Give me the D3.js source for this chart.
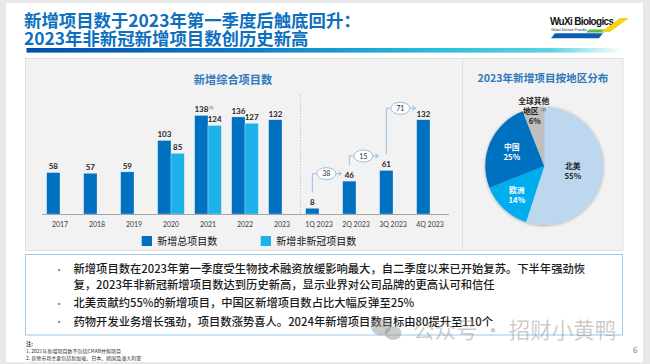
<!DOCTYPE html>
<html><head><meta charset="utf-8">
<script src="https://cdn.jsdelivr.net/npm/d3@7"></script>
<style>
html,body{margin:0;padding:0;background:#e8e8e8;}
svg{display:block;font-family:"Noto Sans CJK SC","Noto Sans",sans-serif;}
</style></head>
<body>
<svg id="c" width="650" height="364"></svg>
<script>
// ---------- data ----------
const titleLines = ["新增项目数于2023年第一季度后触底回升：", "2023年非新冠新增项目数创历史新高"];
const categories = ["2017","2018","2019","2020","2021","2022","2023","1Q 2023","2Q 2023","3Q 2023","4Q 2023"];
const totalProjects = [58,57,59,103,138,136,132,8,46,61,132];
const nonCovidProjects = [null,null,null,85,124,127,null,null,null,null,null];
const seriesNames = ["新增总项目数","新增非新冠项目数"];
const growthFrom = ["1Q 2023","2Q 2023","3Q 2023"];
const growthTo = ["2Q 2023","3Q 2023","4Q 2023"];
const growthValues = [38,15,71];
const regions = ["北美","欧洲","中国","全球其他地区"];
const regionShares = [55,14,25,6];
const bullets = [
  ["新增项目数在2023年第一季度受生物技术融资放缓影响最大，自二季度以来已开始复苏。下半年强劲恢","复，2023年非新冠新增项目数达到历史新高，显示业界对公司品牌的更高认可和信任"],
  ["北美贡献约55%的新增项目，中国区新增项目数占比大幅反弹至25%"],
  ["药物开发业务增长强劲，项目数涨势喜人。2024年新增项目数目标由80提升至110个"]
];
const footnotes = ["注:","1. 2021年新增项目数不包括CMAB并购项目","2. 其他市场主要包括新加坡、日本、韩国及澳大利亚"];

// ---------- styles ----------
const C = {dark:"#0070c0", light:"#1fb1ea", title:"#0d6fbf", sub:"#2f78bd", text:"#1a1a1a"};
const svg = d3.select("#c");
const defs = svg.append("defs");
const g1 = defs.append("linearGradient").attr("id","hdr").attr("x1","0").attr("x2","1");
[["0%","#0050a8"],["35%","#0a78c8"],["70%","#2cc0dc"],["88%","#5fd2e2"],["100%","#ffffff"]]
  .forEach(([o,c])=>g1.append("stop").attr("offset",o).attr("stop-color",c));
const f = defs.append("filter").attr("id","sh").attr("x","-20%").attr("y","-20%").attr("width","140%").attr("height","140%");
f.append("feDropShadow").attr("dx",0).attr("dy",0.5).attr("stdDeviation",1.6).attr("flood-color","#000").attr("flood-opacity",0.35);

// slide
svg.append("rect").attr("x",6).attr("y",3).attr("width",637).attr("height",359).attr("fill","#fff");

// title
titleLines.forEach((t,i)=>svg.append("text").attr("x",24).attr("y",27+i*18)
  .attr("font-size",17.4).attr("font-weight",700).attr("fill",C.title).text(t));
svg.append("rect").attr("x",26.5).attr("y",48).attr("width",597).attr("height",4.6).attr("fill","url(#hdr)");

// logo
const lg = svg.append("g");
lg.append("text").attr("x",550).attr("y",25).attr("font-family","Liberation Sans, Arial").attr("font-weight",700)
  .attr("font-size",10).attr("textLength",64).attr("fill","#111").text("WuXi Biologics");
lg.append("text").attr("x",551).attr("y",30.5).attr("font-family","Liberation Sans, Arial")
  .attr("font-size",3.4).attr("textLength",36).attr("fill","#333").text("Global Solution Provider");
lg.append("polygon").attr("points","555,33.3 603,33.3 599,38.3 551,38.3").attr("fill","#0a5fb4");
lg.append("polygon").attr("points","589,29.5 607,29.5 604,32.6 586,32.6").attr("fill","#5fb846");
lg.append("polygon").attr("points","620,18 629,18 610,32 601,32").attr("fill","#f2d21b");

// panels
svg.append("rect").attr("x",25.5).attr("y",58.5).attr("width",437).attr("height",192).attr("fill","#f2f2f2").attr("stroke","#e0e0e0");
svg.append("rect").attr("x",462.5).attr("y",58.5).attr("width",160.5).attr("height",192).attr("fill","#f2f2f2").attr("stroke","#e0e0e0");

// ---------- bar chart ----------
const x0 = d3.scaleBand().domain(categories).range([41.5,448.5]).padding(0);
const bw = x0.bandwidth();
const x1 = d3.scaleBand().domain(seriesNames).range([bw*0.14,bw*0.86]).padding(0);
const y = d3.scaleLinear().domain([0,138]).range([214,214-138*0.714]);

svg.append("text").attr("x",233).attr("y",84).attr("text-anchor","middle").attr("font-size",11.2)
  .attr("font-weight",700).attr("fill",C.sub).text("新增综合项目数");

// dashed separator
const sepX = (x0("2023")+bw + x0("1Q 2023"))/2;
svg.append("line").attr("x1",sepX).attr("x2",sepX).attr("y1",95).attr("y2",214)
  .attr("stroke","#c8c8c8").attr("stroke-dasharray","1.5,1.5");

const rows = categories.map((c,i)=>({c, vals:[totalProjects[i],nonCovidProjects[i]]}));
const bars = svg.append("g");
rows.forEach(r=>{
  r.vals.forEach((v,j)=>{
    if(v==null) return;
    const xx = x0(r.c)+x1(seriesNames[j]);
    bars.append("rect").attr("x",xx).attr("y",y(v)).attr("width",x1.bandwidth()).attr("height",y(0)-y(v))
      .attr("fill",j? C.light: C.dark).attr("stroke","rgba(255,255,255,0.45)").attr("stroke-width",0.6);
    bars.append("text").attr("x",xx+x1.bandwidth()/2).attr("y",y(v)-3.2).attr("text-anchor","middle")
      .attr("font-family","Lato, 'Noto Sans', sans-serif").attr("font-weight",700).attr("font-size",8).attr("fill","#262626").text(v);
    if(r.c==="2021" && j===0){
      bars.append("text").attr("x",xx+x1.bandwidth()/2+7.5).attr("y",y(v)-6).attr("font-size",4)
        .attr("font-family","Lato, sans-serif").attr("fill","#262626").text("(1)");
    }
  });
});

// axis
const ax = svg.append("g").attr("transform","translate(0,214)").call(d3.axisBottom(x0).tickSize(0).tickPadding(8));
ax.select(".domain").attr("stroke","#a6a6a6").attr("stroke-width",1);
ax.selectAll("text").attr("font-family","Lato, 'Noto Sans', sans-serif").attr("font-size",7).attr("fill","#404040");

// growth annotations
const bubbleLift = [0,7,4];
growthValues.forEach((g,i)=>{
  const fi = categories.indexOf(growthFrom[i]), ti = categories.indexOf(growthTo[i]);
  const sx = x0(growthFrom[i]) + x1(seriesNames[0]) + x1.bandwidth()/2;
  const tx = x0(growthTo[i]) + x1(seriesNames[0]) + x1.bandwidth()/2;
  const sy = y(totalProjects[fi]) - 16;
  const by = y(totalProjects[ti]) - 7.5 - bubbleLift[i];
  const a = svg.append("g").attr("stroke","#8db8e0").attr("fill","none").attr("stroke-width",0.9);
  a.append("path").attr("d",`M${sx},${sy}V${by}H${sx+4}`);
  a.append("ellipse").attr("cx",sx+14).attr("cy",by).attr("rx",9.5).attr("ry",6).attr("fill","#fff");
  a.append("path").attr("d",`M${sx+23.5},${by}H${tx-8}M${tx-11},${by-2.5}L${tx-8},${by}L${tx-11},${by+2.5}`);
  svg.append("text").attr("x",sx+14).attr("y",by+2.6).attr("text-anchor","middle").attr("font-size",7.2)
    .attr("font-family","Lato, sans-serif").attr("fill","#333").text(g);
});

// legend
seriesNames.forEach((s,i)=>{
  const lx = [141.7,260.7][i];
  svg.append("rect").attr("x",lx).attr("y",236).attr("width",10.3).attr("height",10).attr("fill",i?C.light:C.dark);
  svg.append("text").attr("x",lx+15.5).attr("y",245).attr("font-size",10).attr("fill","#111").text(s);
});

// ---------- pie ----------
svg.append("text").attr("x",543).attr("y",82).attr("text-anchor","middle").attr("font-size",10.6)
  .attr("font-weight",700).attr("fill",C.sub).text("2023年新增项目按地区分布");
const pieColors = ["#bdd7ee","#00aeef","#0070c0","#bfbfbf"];
const pie = d3.pie().sort(null).value(d=>d)(regionShares);
const R = 59, cx = 544.3, cy = 166;
const arc = d3.arc().innerRadius(0).outerRadius(R);
const pg = svg.append("g").attr("transform",`translate(${cx},${cy})`);
pg.append("g").attr("filter","url(#sh)").selectAll("path").data(pie).join("path")
  .attr("d",arc).attr("fill",(d,i)=>pieColors[i]);
const labR = [0.49,0.68,0.6,0.95];
const labCol = ["#262626","#fff","#fff","#262626"];
const labelLines = [["北美"],["欧洲"],["中国"],["全球其他","地区"]];
pie.forEach((d,i)=>{
  const a = (d.startAngle+d.endAngle)/2, r = R*labR[i];
  const lx = Math.sin(a)*r, ly = -Math.cos(a)*r;
  const lines = labelLines[i].concat([regionShares[i]+"%"]);
  const n = lines.length, lh = 10;
  lines.forEach((t,k)=>{
    const tt = pg.append("text").attr("x",lx).attr("y",ly+(k-(n-1)/2)*lh+3)
      .attr("text-anchor","middle").attr("font-size",7.8).attr("font-weight",700).attr("fill",labCol[i]).text(t);
    if(i===3 && k===1){ tt.attr("x",lx-3);
      pg.append("text").attr("x",lx+7.5).attr("y",ly+(k-(n-1)/2)*lh).attr("font-size",4).attr("fill","#262626").text("(2)"); }
    if(i===3 && k===2) tt.attr("x",lx+1);
  });
});

// ---------- bullet box ----------
svg.append("rect").attr("x",25.5).attr("y",254.5).attr("width",597).attr("height",80.5).attr("fill","#fff").attr("stroke","#9cc7e8").attr("stroke-width",1);
const lineY = [[273,288.5],[307],[325.5]];
bullets.forEach((b,i)=>{
  svg.append("text").attr("x",54.5).attr("y",lineY[i][0]-0.5).attr("font-size",9).attr("fill","#2f78bd").text("•");
  b.forEach((t,k)=>svg.append("text").attr("x",73.5).attr("y",lineY[i][k]).attr("font-size",11.3)
    .attr("font-weight",500).attr("fill",C.text).text(t));
});

// watermark
const wm = svg.append("g").attr("fill","rgba(140,140,140,0.45)");
wm.append("ellipse").attr("cx",381).attr("cy",327).attr("rx",10).attr("ry",8.5);
wm.append("ellipse").attr("cx",393).attr("cy",333).attr("rx",8.5).attr("ry",7);
wm.append("text").attr("x",413).attr("y",338).attr("font-size",21.5).text("公众号 · 招财小黄鸭");

// footnotes
footnotes.forEach((t,i)=>svg.append("text").attr("x",26).attr("y",[345.5,353,360.3][i])
  .attr("font-size",i?5:5.3).attr("font-weight",i?400:700).attr("fill","#333").text(t));
svg.append("text").attr("x",633).attr("y",353).attr("font-size",8).attr("fill","#777").text("6");
</script>
</body></html>
